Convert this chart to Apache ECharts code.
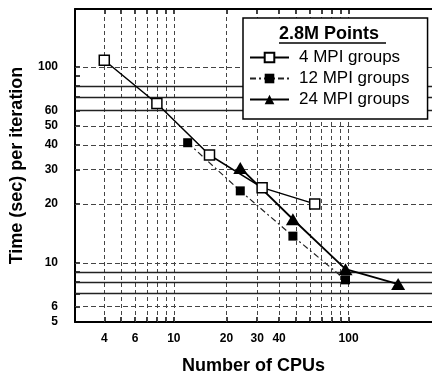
<!DOCTYPE html>
<html><head><meta charset="utf-8">
<script src="https://cdn.jsdelivr.net/npm/echarts@6/dist/echarts.min.js"></script>
<style>html,body{margin:0;padding:0;background:#fff}#c{width:432px;height:380px}</style>
</head><body><div id="c"></div>
<script>
// ---- data ----
const cpus4 = [4, 8, 16, 32, 64];
const time4 = [108, 65, 35.5, 24.2, 20];
const cpus12 = [12, 24, 48, 96];
const time12 = [41, 23.3, 13.7, 8.2];
const cpus24 = [24, 48, 96, 192];
const time24 = [30.5, 16.7, 9.3, 7.8];
const seriesNames = ['4 MPI groups', '12 MPI groups', '24 MPI groups'];
const legendTitle = '2.8M Points';
const xTitle = 'Number of CPUs';
const yTitle = 'Time (sec) per iteration';
const xTickLabels = [4, 6, 10, 20, 30, 40, 100];
const yTickLabels = [5, 6, 10, 20, 30, 40, 50, 60, 100];
const xGrid = [4, 5, 6, 7, 8, 9, 10, 20, 30, 40, 50, 60, 70, 80, 90, 100];
const yGridDashed = [6, 10, 20, 30, 40, 50, 100];
const yGridSolid = [7, 8, 9, 60, 70, 80];
const yTicks = [6, 7, 8, 9, 10, 20, 30, 40, 50, 60, 70, 80, 90, 100];

const FONT = 'Liberation Sans';
const pairs = (xs, ys) => xs.map((x, i) => [x, ys[i]]);

const chart = echarts.init(document.getElementById('c'), null, {renderer: 'canvas'});
const xCommon = {
  type: 'log', min: 2.72, max: 300, logBase: 10,
  axisLine: {show: true, lineStyle: {color: '#000', width: 2}},
  axisTick: {show: true, inside: true, length: 5, customValues: xGrid, lineStyle: {color: '#000', width: 1.5}},
  splitLine: {show: false}, minorTick: {show: false}
};
const gridLines = [].concat(
  xGrid.map(v => ({xAxis: v, lineStyle: {type: [4, 3], color: '#444', width: 1}})),
  yGridDashed.map(v => ({yAxis: v, lineStyle: {type: [5, 3], color: '#444', width: 1}})),
  yGridSolid.map(v => ({yAxis: v, lineStyle: {type: 'solid', color: '#222', width: 1.3}}))
);
chart.setOption({
  animation: false,
  backgroundColor: '#fff',
  grid: {left: 74, top: 9, right: -5, bottom: 57, containLabel: false},
  xAxis: [
    Object.assign({}, xCommon, {
      position: 'bottom', name: xTitle, nameLocation: 'middle', nameGap: 35,
      nameTextStyle: {fontFamily: FONT, fontWeight: 'bold', fontSize: 18, color: '#000'},
      axisLabel: {customValues: xTickLabels, margin: 11, fontFamily: FONT, fontWeight: 'bold', fontSize: 12, color: '#000'}
    }),
    Object.assign({}, xCommon, {position: 'top', axisLabel: {show: false}})
  ],
  yAxis: {
    type: 'log', min: 5, max: 197, logBase: 10, position: 'left',
    name: yTitle, nameLocation: 'middle', nameGap: 49,
    nameTextStyle: {fontFamily: FONT, fontWeight: 'bold', fontSize: 18, color: '#000'},
    axisLine: {show: true, lineStyle: {color: '#000', width: 2}},
    axisTick: {show: true, inside: true, length: 5, customValues: yTicks, lineStyle: {color: '#000', width: 1.5}},
    axisLabel: {customValues: yTickLabels, margin: 17, fontFamily: FONT, fontWeight: 'bold', fontSize: 12, color: '#000'},
    splitLine: {show: false}, minorTick: {show: false}
  },
  legend: {
    left: 243, top: 18, orient: 'vertical', selectedMode: false,
    data: seriesNames,
    itemWidth: 39, itemHeight: 12, itemGap: 4,
    padding: [31, 18, 11, 6],
    backgroundColor: '#fff', borderColor: '#000', borderWidth: 1.5, borderRadius: 0,
    textStyle: {fontFamily: FONT, fontSize: 17, color: '#000', padding: [0, 0, 0, 5]},
    z: 10
  },
  graphic: [
    {type: 'text', left: 279, top: 25, z: 100,
     style: {text: legendTitle, font: 'bold 18px "' + FONT + '"', fill: '#000'}},
    {type: 'line', z: 100, shape: {x1: 279, y1: 43, x2: 386, y2: 43}, style: {stroke: '#000', lineWidth: 1.5}}
  ],
  series: [
    {
      name: seriesNames[0], type: 'line', data: pairs(cpus4, time4),
      symbol: 'rect', symbolSize: 10, z: 3,
      lineStyle: {color: '#000', width: 1.5, type: 'solid'},
      itemStyle: {color: '#fff', borderColor: '#000', borderWidth: 1.5},
      markLine: {silent: true, symbol: 'none', z: 1, label: {show: false}, data: gridLines}
    },
    {
      name: seriesNames[1], type: 'line', data: pairs(cpus12, time12),
      symbol: 'rect', symbolSize: 9, z: 3,
      lineStyle: {color: '#222', width: 1.2, type: [6, 3, 2, 3]},
      itemStyle: {color: '#000', borderColor: '#000', borderWidth: 0}
    },
    {
      name: seriesNames[2], type: 'line', data: pairs(cpus24, time24),
      symbol: 'triangle', symbolSize: [14, 12], z: 3,
      lineStyle: {color: '#000', width: 1.8, type: 'solid'},
      itemStyle: {color: '#000', borderColor: '#000', borderWidth: 0}
    }
  ]
});
</script>
</body></html>
